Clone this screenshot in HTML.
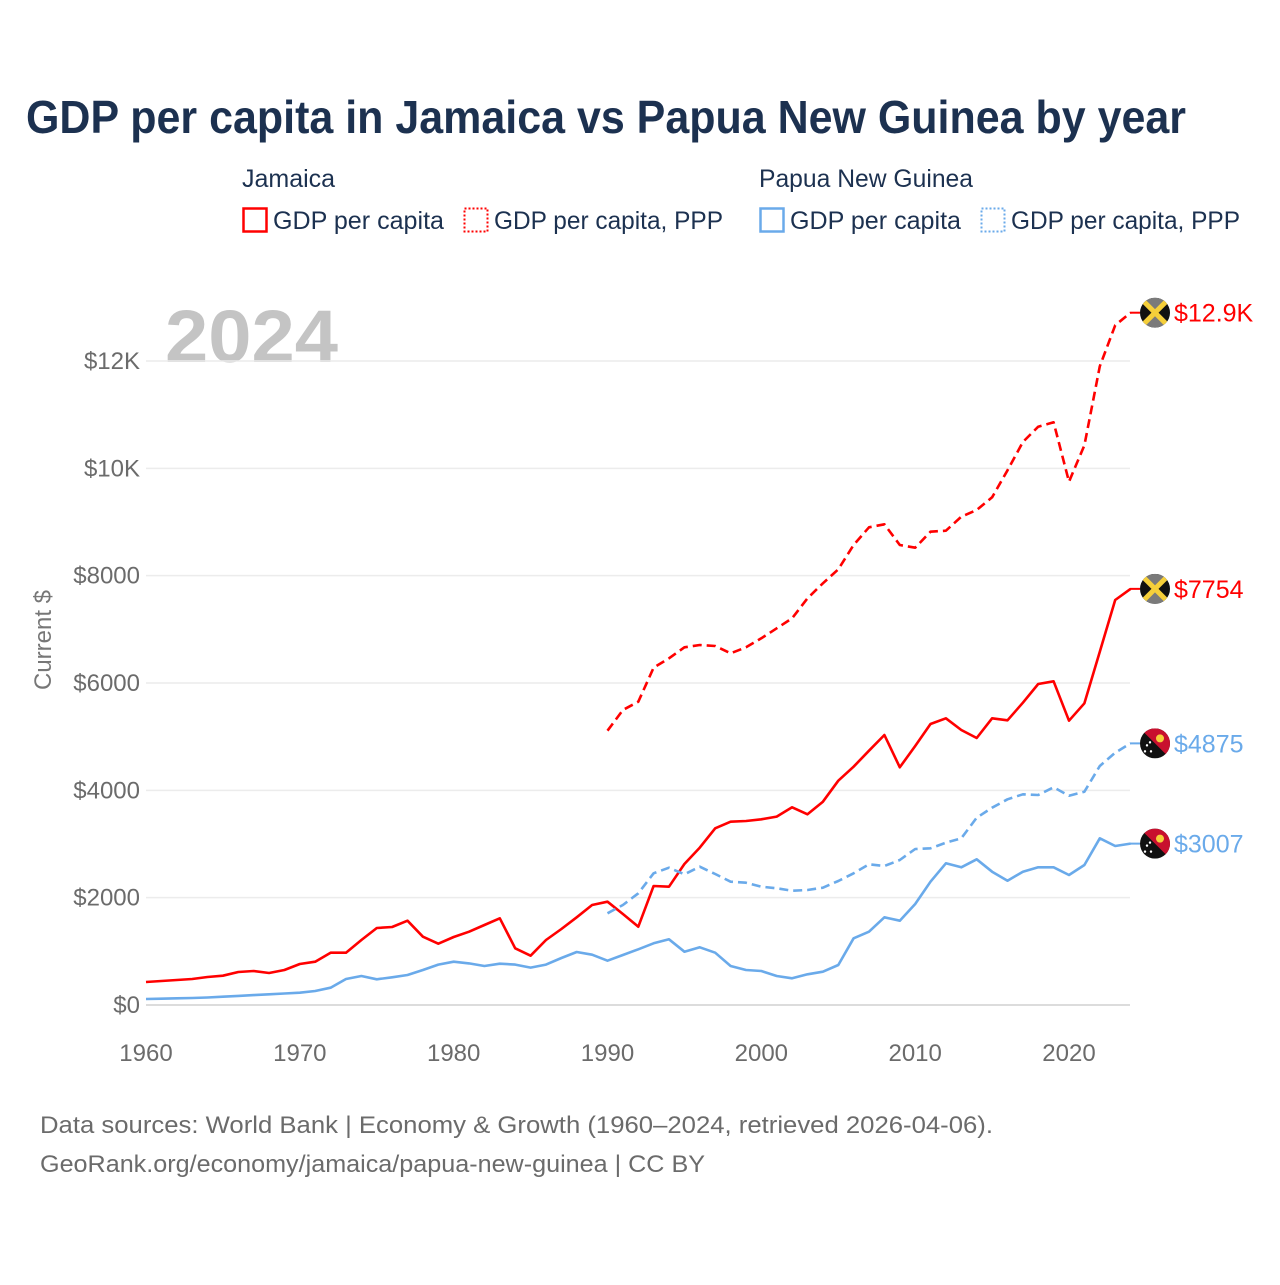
<!DOCTYPE html>
<html><head><meta charset="utf-8"><style>
body{margin:0;background:#fff;width:1280px;height:1280px;overflow:hidden;font-family:"Liberation Sans",sans-serif}
</style></head><body>
<svg width="1280" height="1280" viewBox="0 0 1280 1280" id="chart">
<text x="26" y="133" font-size="46" font-weight="bold" fill="#1c3150" textLength="1160" lengthAdjust="spacingAndGlyphs">GDP per capita in Jamaica vs Papua New Guinea by year</text>
<g font-size="25" fill="#1c3150">
<text x="242" y="187">Jamaica</text>
<text x="759" y="187" textLength="214" lengthAdjust="spacingAndGlyphs">Papua New Guinea</text>
<g><rect x="243.5" y="208.5" width="23" height="23" fill="none" stroke="#ff0000" stroke-width="2.5"/><text x="273" y="229" textLength="171" lengthAdjust="spacingAndGlyphs">GDP per capita</text></g>
<g><rect x="464.5" y="208.5" width="23" height="23" fill="none" stroke="#ff0000" stroke-width="2" stroke-dasharray="2,2"/><text x="494" y="229" textLength="229" lengthAdjust="spacingAndGlyphs">GDP per capita, PPP</text></g>
<g><rect x="760.5" y="208.5" width="23" height="23" fill="none" stroke="#6aaaea" stroke-width="2.5"/><text x="790" y="229" textLength="171" lengthAdjust="spacingAndGlyphs">GDP per capita</text></g>
<g><rect x="981.5" y="208.5" width="23" height="23" fill="none" stroke="#6aaaea" stroke-width="2" stroke-dasharray="2,2"/><text x="1011" y="229" textLength="229" lengthAdjust="spacingAndGlyphs">GDP per capita, PPP</text></g>
</g>
<text x="165" y="362" font-size="74" font-weight="bold" fill="#c4c4c4" textLength="173" lengthAdjust="spacingAndGlyphs">2024</text>
<text transform="translate(51,640) rotate(-90)" text-anchor="middle" font-size="24" fill="#777">Current $</text>
<g id="grid"></g><g id="yticks"></g><g id="xticks"></g><g id="series"></g><g id="ends"></g>
<text x="40" y="1133" font-size="24" fill="#6b6b6b" textLength="953" lengthAdjust="spacingAndGlyphs">Data sources: World Bank | Economy &amp; Growth (1960–2024, retrieved 2026-04-06).</text>
<text x="40" y="1172" font-size="24" fill="#6b6b6b" textLength="665" lengthAdjust="spacingAndGlyphs">GeoRank.org/economy/jamaica/papua-new-guinea | CC BY</text>
</svg>
<script>
const yTicks=[0,2000,4000,6000,8000,10000,12000];
const yTickLabels=["$0","$2000","$4000","$6000","$8000","$10K","$12K"];
const xTicks=[1960,1970,1980,1990,2000,2010,2020];
const jamGdpStart=1960;
const jamGdp=[429,447,466,485,522,546,615,634,596,652,764,807,975,975,1211,1435,1453,1571,1273,1142,1267,1366,1491,1616,1057,919,1211,1416,1634,1863,1925,1696,1459,2217,2205,2627,2932,3292,3416,3429,3460,3510,3683,3553,3789,4180,4441,4739,5031,4429,4826,5236,5342,5124,4975,5342,5305,5633,5981,6032,5298,5622,6584,7547,7754];
const jamPppStart=1990;
const jamPpp=[5112,5497,5652,6286,6460,6665,6708,6690,6553,6665,6833,7019,7206,7578,7858,8119,8571,8902,8958,8571,8521,8819,8838,9099,9224,9460,9963,10491,10776,10857,9751,10429,11901,12665,12900];
const pngGdpStart=1960;
const pngGdp=[112,118,125,130,140,155,170,185,200,215,230,260,323,484,540,478,516,559,652,752,807,776,727,770,752,696,752,876,988,938,826,932,1038,1150,1224,993,1075,975,727,652,634,540,497,572,621,745,1243,1366,1634,1571,1882,2298,2640,2566,2715,2484,2316,2484,2566,2566,2422,2609,3106,2963,3007];
const pngPppStart=1990;
const pngPpp=[1709,1863,2081,2454,2559,2435,2577,2441,2298,2279,2205,2174,2130,2143,2186,2311,2454,2622,2590,2702,2907,2920,3024,3106,3490,3677,3833,3926,3913,4056,3900,3975,4454,4701,4875];
const endLabels=["$7754","$12.9K","$3007","$4875"];

const NS="http://www.w3.org/2000/svg";
const X=y=>146+(y-1960)*(1069-146)/60;
const Y=v=>1005-v*(1005-361)/12000;
function mk(t,a,p){const e=document.createElementNS(NS,t);for(const k in a)e.setAttribute(k,a[k]);document.getElementById(p).appendChild(e);return e;}
yTicks.forEach((v,i)=>{
  const l=mk('line',{x1:146,x2:1130,y1:Y(v),y2:Y(v),stroke:v===0?'#dcdcdc':'#ececec','stroke-width':v===0?2:1.5},'grid');
  
  
  const t=mk('text',{x:140,y:Y(v)+8,'text-anchor':'end','font-size':24,fill:'#6b6b6b'},'yticks');
  t.textContent=yTickLabels[i];
  
  
});
xTicks.forEach(y=>{
  const t=mk('text',{x:X(y),y:1061,'text-anchor':'middle','font-size':24,fill:'#6b6b6b'},'xticks');
  t.textContent=y;
  
  
});
function line(data,start,color,dash,name){
  const pts=data.map((v,i)=>X(start+i).toFixed(1)+','+Y(v).toFixed(1)).join(' ');
  const a={points:pts,fill:'none',stroke:color,'stroke-width':2.6,'stroke-linejoin':'round'};
  if(dash)a['stroke-dasharray']='9,5';
  const p=mk('polyline',a,'series');
  
  
  return Y(data[data.length-1]);
}
const RED='#ff0000',BLUE='#6aaaea';
const y1=line(jamGdp,jamGdpStart,RED,false,'line-jamaica-gdp');
const y2=line(jamPpp,jamPppStart,RED,true,'line-jamaica-ppp');
const y3=line(pngGdp,pngGdpStart,BLUE,false,'line-png-gdp');
const y4=line(pngPpp,pngPppStart,BLUE,true,'line-png-ppp');
function flag(cy,jam,label,color){
  const cx=1155;
  const g=mk('g',{},'ends');
  
  
  const id='c'+Math.round(cy);
  const cp=document.createElementNS(NS,'clipPath');cp.setAttribute('id',id);
  const cc=document.createElementNS(NS,'circle');cc.setAttribute('cx',cx);cc.setAttribute('cy',cy);cc.setAttribute('r',15);cp.appendChild(cc);g.appendChild(cp);
  const inner=document.createElementNS(NS,'g');inner.setAttribute('clip-path','url(#'+id+')');g.appendChild(inner);
  const add=(t,a)=>{const e=document.createElementNS(NS,t);for(const k in a)e.setAttribute(k,a[k]);inner.appendChild(e);};
  add('rect',{x:cx-15,y:cy-15,width:30,height:30,fill:'#111'});
  if(jam){
    add('polygon',{points:`${cx-15},${cy-15} ${cx+15},${cy-15} ${cx},${cy}`,fill:'#7a7a7a'});
    add('polygon',{points:`${cx-15},${cy+15} ${cx+15},${cy+15} ${cx},${cy}`,fill:'#7a7a7a'});
    add('line',{x1:cx-15,y1:cy-15,x2:cx+15,y2:cy+15,stroke:'#f5cf3a','stroke-width':5});
    add('line',{x1:cx+15,y1:cy-15,x2:cx-15,y2:cy+15,stroke:'#f5cf3a','stroke-width':5});
  }else{
    add('polygon',{points:`${cx-15},${cy-15} ${cx+15},${cy-15} ${cx+15},${cy+15}`,fill:'#c8102e'});
    add('circle',{cx:cx+5,cy:cy-5,r:4,fill:'#f5cf3a'});
    [[-8,2],[-4,8],[-10,8],[-5,-1]].forEach(d=>add('circle',{cx:cx+d[0],cy:cy+d[1],r:1.2,fill:'#fff'}));
  }
  mk('line',{x1:1130,x2:1140,y1:cy,y2:cy,stroke:color,'stroke-width':2},'ends');
  const t=mk('text',{x:1174,y:cy+9,'font-size':25,fill:color},'ends');
  t.textContent=label;
  
  
}
flag(y1,true,endLabels[0],RED);
flag(y2,true,endLabels[1],RED);
flag(y3,false,endLabels[2],BLUE);
flag(y4,false,endLabels[3],BLUE);
</script>
</body></html>
